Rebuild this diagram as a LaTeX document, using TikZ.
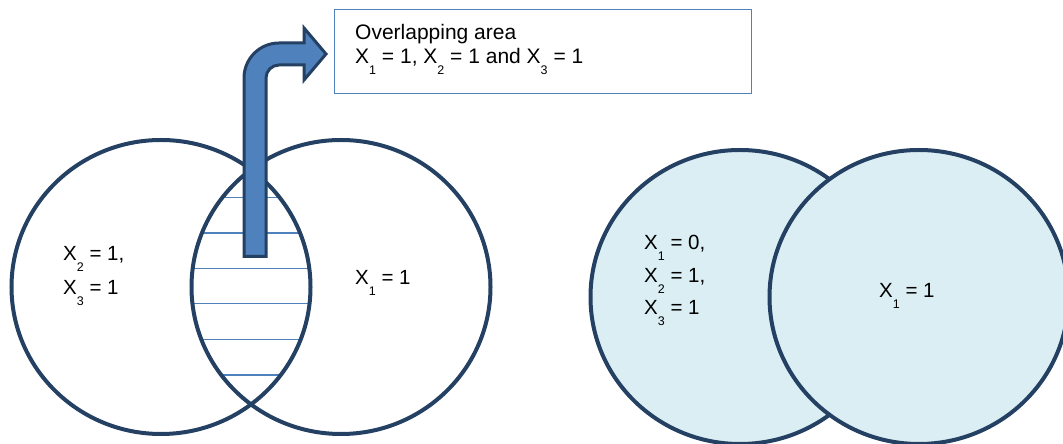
\documentclass[tikz,border=0pt]{standalone}
\usepackage{fontspec}
\setmainfont{Liberation Sans}
\usetikzlibrary{shapes.geometric}
\definecolor{vennline}{RGB}{36,64,98}
\definecolor{vennfill}{RGB}{218,238,243}
\definecolor{accblue}{RGB}{79,129,189}
\newcommand{\xsub}[1]{\raisebox{-11pt}{\fontsize{12.5}{12.5}\selectfont #1}}

\begin{document}
\begin{tikzpicture}[x=1pt, y=1pt,
  venn/.style={ellipse, draw=vennline, line width=4pt,
    minimum width=299pt, minimum height=294pt, inner sep=0pt},
  vennf/.style={venn, fill=vennfill},
  lbl/.style={anchor=base west, align=left, inner sep=0pt},
  hatch/.style={accblue, line width=1.5pt},
  bent/.style={fill=accblue, draw=vennline, line width=3pt, line join=miter},
  notebox/.style={rectangle, draw=accblue, line width=1.5pt,
    minimum width=417pt, minimum height=84pt, inner sep=0pt},
]
  \useasboundingbox (0,0) rectangle (1063,444);

  % hatched overlap of the left pair
  \begin{scope}
    \clip (161,157) ellipse [x radius=149.5, y radius=147];
    \clip (341,157) ellipse [x radius=149.5, y radius=147];
    \foreach \yy in {246.3,211,175.7,140.3,104.7,69}
      \draw[hatch] (170,\yy) -- (330,\yy);
  \end{scope}

  % left pair
  \node[venn] (vA) at (161,157) {};
  \node[venn] (vB) at (341,157) {};
  \node[lbl, font=\fontsize{20.5}{34}\selectfont] (tA) at (63,149)
    {X\xsub{2} = 1,\\X\xsub{3} = 1};
  \node[lbl, font=\fontsize{20.5}{34}\selectfont] (tB) at (355,159) {X\xsub{1} = 1};

  % right pair
  \node[vennf] (vC) at (740,147) {};
  \node[vennf] (vD) at (919,147) {};
  \node[lbl, font=\fontsize{20.5}{32.5}\selectfont] (tC) at (644,129)
    {X\xsub{1} = 0,\\X\xsub{2} = 1,\\X\xsub{3} = 1};
  \node[lbl, font=\fontsize{20.5}{32.5}\selectfont] (tD) at (879,146.3) {X\xsub{1} = 1};

  % note box
  \node[notebox] (note) at (543,392.5) {};
  \node[lbl, font=\fontsize{21}{23.3}\selectfont] (notetxt) at (355,380.7)
    {Overlapping area\\X\xsub{1} = 1, X\xsub{2} = 1 and X\xsub{3} = 1};

  % bent arrow from the overlap up to the note
  \draw[bent] (244,187.5) -- (244,366) arc (180:90:35) -- (304,401) -- (304,416)
    -- (326,390) -- (304,364) -- (304,379) -- (279,379) arc (90:180:13)
    -- (266,187.5) -- cycle;
\end{tikzpicture}
\end{document}
